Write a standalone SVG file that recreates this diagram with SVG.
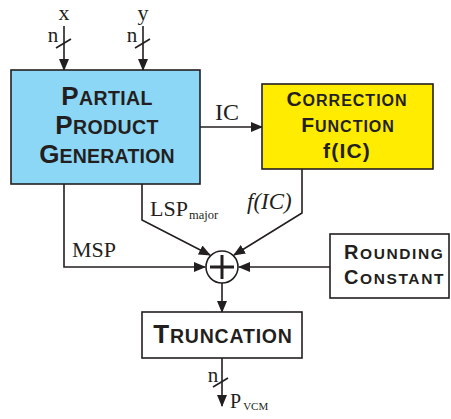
<svg xmlns="http://www.w3.org/2000/svg" width="451" height="419" viewBox="0 0 451 419">
  <defs>
    <marker id="ah" markerWidth="12" markerHeight="10" refX="11" refY="5" orient="auto" markerUnits="userSpaceOnUse">
      <path d="M0,0 L12,5 L0,10 Z" fill="#231f20"/>
    </marker>
  </defs>
  <style>
    .ln { stroke: #231f20; stroke-width: 1.6; fill: none; }
    .box { stroke: #231f20; stroke-width: 1.6; }
    .sc { font-family: "Liberation Sans", Arial, sans-serif; font-weight: bold; fill: #231f20; }
    .lbl { font-family: "Liberation Serif", "Times New Roman", serif; fill: #231f20; }
  </style>

  <rect width="451" height="419" fill="#ffffff"/>

  <!-- connectors -->
  <g id="connectors">
    <line class="ln" x1="64" y1="26" x2="64" y2="70" marker-end="url(#ah)"/>
    <line class="ln" x1="56" y1="48" x2="71" y2="39"/>
    <line class="ln" x1="143" y1="26" x2="143" y2="70" marker-end="url(#ah)"/>
    <line class="ln" x1="135" y1="48" x2="150" y2="39"/>
    <line class="ln" x1="200" y1="127" x2="262" y2="127" marker-end="url(#ah)"/>
    <polyline class="ln" points="64,184 64,267 205,267" marker-end="url(#ah)"/>
    <polyline class="ln" points="142,184 142,220 210,255" marker-end="url(#ah)"/>
    <polyline class="ln" points="302,169 302,213 234,255" marker-end="url(#ah)"/>
    <line class="ln" x1="330" y1="267" x2="239" y2="267" marker-end="url(#ah)"/>
    <line class="ln" x1="222" y1="283" x2="222" y2="312" marker-end="url(#ah)"/>
    <line class="ln" x1="222" y1="358" x2="222" y2="406" marker-end="url(#ah)"/>
    <line class="ln" x1="213" y1="387" x2="228" y2="378"/>
  </g>

  <!-- input labels -->
  <g id="inputs">
    <text class="lbl" x="64" y="20" font-size="22" text-anchor="middle">x</text>
    <text class="lbl" x="53" y="42" font-size="21" text-anchor="middle">n</text>
    <text class="lbl" x="143" y="20" font-size="22" text-anchor="middle">y</text>
    <text class="lbl" x="132" y="42" font-size="21" text-anchor="middle">n</text>
  </g>

  <g id="ppg">
    <rect class="box" x="11" y="70" width="189" height="114" fill="#8dd7f6"/>
    <text class="sc" text-anchor="middle" x="107" y="105" letter-spacing="0.4"><tspan font-size="26">P</tspan><tspan font-size="19.5">ARTIAL</tspan></text>
    <text class="sc" text-anchor="middle" x="107" y="134" letter-spacing="0.4"><tspan font-size="26">P</tspan><tspan font-size="19.5">RODUCT</tspan></text>
    <text class="sc" text-anchor="middle" x="107" y="163" letter-spacing="0.2"><tspan font-size="26">G</tspan><tspan font-size="19.5">ENERATION</tspan></text>
  </g>

  <g id="correction">
    <rect class="box" x="262" y="84" width="171" height="85" fill="#ffec00"/>
    <text class="sc" text-anchor="middle" x="347" y="106" letter-spacing="1"><tspan font-size="21">C</tspan><tspan font-size="16">ORRECTION</tspan></text>
    <text class="sc" text-anchor="middle" x="348" y="132" letter-spacing="1"><tspan font-size="21">F</tspan><tspan font-size="16">UNCTION</tspan></text>
    <text class="sc" text-anchor="middle" x="347" y="158" font-size="21" letter-spacing="1.2">f(IC)</text>
  </g>

  <g id="rounding">
    <rect class="box" x="330" y="234" width="119" height="64" fill="#ffffff"/>
    <text class="sc" x="344" y="259" letter-spacing="1.6"><tspan font-size="20">R</tspan><tspan font-size="15.5">OUNDING</tspan></text>
    <text class="sc" x="344" y="284" letter-spacing="1.6"><tspan font-size="20">C</tspan><tspan font-size="15.5">ONSTANT</tspan></text>
  </g>

  <g id="adder">
    <circle class="box" cx="222" cy="267" r="16" fill="#ffffff"/>
    <line x1="210" y1="267" x2="234" y2="267" stroke="#231f20" stroke-width="3"/>
    <line x1="222" y1="255" x2="222" y2="279" stroke="#231f20" stroke-width="3"/>
  </g>

  <g id="truncation">
    <rect class="box" x="142" y="312" width="160" height="46" fill="#ffffff"/>
    <text class="sc" text-anchor="middle" x="223" y="343" letter-spacing="0.8"><tspan font-size="26">T</tspan><tspan font-size="19.5">RUNCATION</tspan></text>
  </g>

  <!-- signal labels -->
  <g id="labels">
    <text class="lbl" x="215" y="120" font-size="24">IC</text>
    <text class="lbl" x="72" y="257" font-size="22">MSP</text>
    <text class="lbl" x="150" y="216" font-size="22">LSP<tspan font-size="12.5" dx="1" dy="3">major</tspan></text>
    <text class="lbl" x="247" y="209" font-size="23" font-style="italic">f(IC)</text>
    <text class="lbl" x="213" y="382" font-size="21" text-anchor="middle">n</text>
    <text class="lbl" x="230" y="408" font-size="20">P<tspan font-size="11" dx="2" dy="2">VCM</tspan></text>
  </g>
</svg>
